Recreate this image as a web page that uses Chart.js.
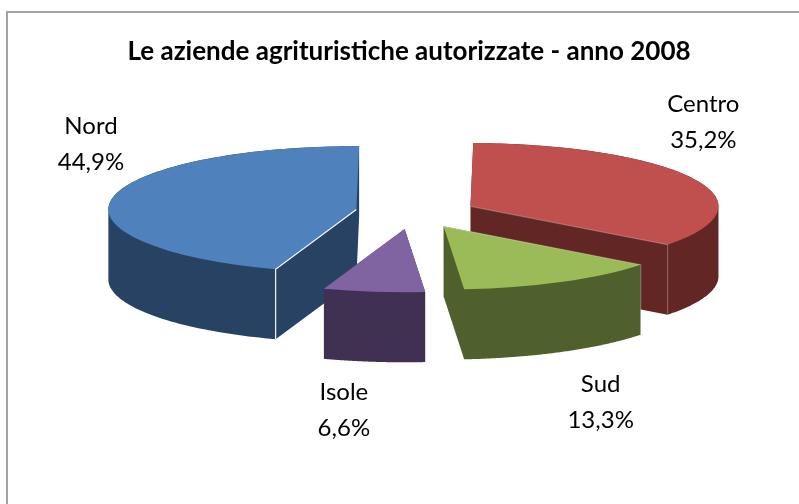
<!DOCTYPE html>
<html>
<head>
<meta charset="utf-8">
<title>Le aziende agrituristiche autorizzate</title>
<script src="https://cdn.jsdelivr.net/npm/chart.js@4/dist/chart.umd.min.js"></script>
<style>
    html, body { margin: 0; padding: 0; background: #fff; overflow: hidden; }
    #wrap { position: relative; width: 799px; height: 504px; overflow: hidden; }
    #frame { position: absolute; left: 6px; top: 11px; width: 820px; height: 520px; border: 2px solid #a3a3a3; }
    #myChart { position: absolute; left: 0; top: 0; }
</style>
</head>
<body>
<div id="wrap">
    <div id="frame"></div>
    <canvas id="myChart" width="799" height="504"></canvas>
</div>
<script>
const title = 'Le aziende agrituristiche autorizzate - anno 2008';
const categories = ['Nord', 'Centro', 'Sud', 'Isole'];
const percent = [44.9, 35.2, 13.3, 6.6];

const topColors = ['#4f81bd', '#c0504d', '#9bbb59', '#8064a2'];
const wallColors = ['#274262', '#622725', '#4f602c', '#403152'];
const edgeColors = ['rgba(255,255,255,0.95)', 'rgba(255,255,255,0.25)', 'rgba(255,255,255,0.25)', 'rgba(255,255,255,0)'];

// fake 3D settings
const centerX = 417, centerY = 212;
const tilt = 0.255;
const pieRadius = 248;
const explode = 59.5;
const depth = 70;
// back to front
const paintOrder = [1, 0, 3, 2];
// small extra shift per slice, the original has some perspective
const sliceShift = [[-2, 0], [0, 1], [-2, 1], [-5, 2]];
// label shift from the outer middle of the slice
const labelShift = [[-23, -54], [10, -55], [36, 121], [-35, 120]];

let sliceAnchor = (arc, i) => {
    let mid = (arc.startAngle + arc.endAngle) / 2;
    return {
        x: centerX + Math.cos(mid) * explode + sliceShift[i][0],
        y: centerY + Math.sin(mid) * explode * tilt + sliceShift[i][1]
    };
}

let toPieSpace = (ctx, arc, i) => {
    let a = sliceAnchor(arc, i);
    ctx.translate(a.x, a.y);
    ctx.scale(1, tilt);
    ctx.translate(-arc.x, -arc.y);
}

// convex hull, every slice here is under 180 degrees so this is its swept outline
let hull = (points) => {
    let pts = points.slice().sort((p, q) => p.x - q.x || p.y - q.y);
    let cross = (o, p, q) => (p.x - o.x) * (q.y - o.y) - (p.y - o.y) * (q.x - o.x);
    let half = (list) => {
        let out = [];
        list.forEach(p => {
            while (out.length > 1 && cross(out[out.length - 2], out[out.length - 1], p) <= 0) out.pop();
            out.push(p);
        });
        out.pop();
        return out;
    };
    return half(pts).concat(half(pts.reverse()));
}

let drawWall = (ctx, arc, i) => {
    let a = sliceAnchor(arc, i);
    let top = [{x: a.x, y: a.y}];
    let steps = 120;
    for (let s = 0; s <= steps; s++) {
        let t = arc.startAngle + (arc.endAngle - arc.startAngle) * s / steps;
        top.push({x: a.x + Math.cos(t) * arc.outerRadius, y: a.y + Math.sin(t) * arc.outerRadius * tilt});
    }
    let outline = hull(top.concat(top.map(p => ({x: p.x, y: p.y + depth}))));
    ctx.fillStyle = wallColors[i];
    ctx.beginPath();
    outline.forEach((p, n) => n ? ctx.lineTo(p.x, p.y) : ctx.moveTo(p.x, p.y));
    ctx.closePath();
    ctx.fill();
}

const pie3d = {
    id: 'pie3d',
    beforeDatasetDraw(chart, args) {
        const ctx = chart.ctx;
        const arcs = args.meta.data;
        paintOrder.forEach(i => {
            const arc = arcs[i];
            drawWall(ctx, arc, i);

            // top face, drawn by the library
            ctx.save();
            toPieSpace(ctx, arc, i);
            arc.draw(ctx);
            ctx.restore();

            // thin light edges at the front corner
            let corner = i === 1 ? arc.endAngle : arc.startAngle;
            let a = sliceAnchor(arc, i);
            let px = a.x + Math.cos(corner) * arc.outerRadius;
            let py = a.y + Math.sin(corner) * arc.outerRadius * tilt;
            ctx.save();
            ctx.strokeStyle = edgeColors[i];
            ctx.lineWidth = 1.2;
            ctx.beginPath();
            ctx.moveTo(a.x, a.y);
            ctx.lineTo(px, py);
            ctx.lineTo(px, py + depth);
            ctx.stroke();
            ctx.restore();
        });
        return false;
    },
    afterDraw(chart) {
        const ctx = chart.ctx;
        const arcs = chart.getDatasetMeta(0).data;
        ctx.save();
        ctx.fillStyle = '#000';
        ctx.textAlign = 'center';
        ctx.textBaseline = 'middle';
        ctx.font = '24px Lato';
        arcs.forEach((arc, i) => {
            let mid = (arc.startAngle + arc.endAngle) / 2;
            let far = arc.outerRadius + explode;
            let x = centerX + Math.cos(mid) * far + labelShift[i][0];
            let y = centerY + Math.sin(mid) * far * tilt + labelShift[i][1];
            ctx.fillText(categories[i], x, y - 18);
            ctx.fillText(percent[i].toFixed(1).replace('.', ',') + '%', x, y + 18);
        });
        ctx.restore();
    }
};

new Chart(document.getElementById('myChart').getContext('2d'), {
    type: 'pie',
    data: {
        labels: categories,
        datasets: [{
            data: percent,
            backgroundColor: topColors,
            borderWidth: 0,
            radius: pieRadius
        }]
    },
    options: {
        responsive: false,
        animation: false,
        rotation: 199,
        layout: { padding: { left: 19 } },
        plugins: {
            legend: { display: false },
            tooltip: { enabled: false },
            title: {
                display: true,
                text: title,
                color: '#000',
                font: { family: 'Lato', size: 26, weight: 'bold' },
                padding: { top: 36, bottom: 20 }
            }
        }
    },
    plugins: [pie3d]
});
</script>
</body>
</html>
